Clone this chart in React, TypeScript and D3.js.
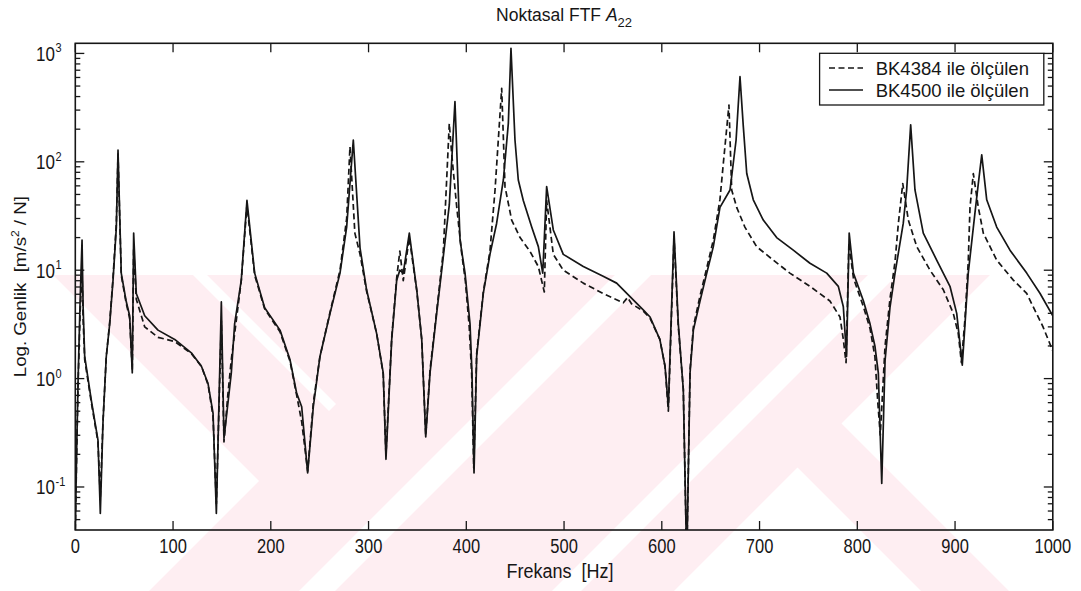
import React from "react";
import * as d3 from "d3";

// Point FRF A22 magnitude, measured with two accelerometers: [frequency Hz, |A| (m/s^2)/N]
const bk4384: [number, number][] = [
  [0, 0.04], [1.5, 0.22], [3, 1.0], [5, 4.2], [6.9, 9.5], [8, 3.5], [9.6, 1.5], [16.4, 0.6], [23.2, 0.26],
  [25.6, 0.08], [28.3, 0.4], [31.7, 1.6], [35.2, 3.3], [38.6, 8.5], [42, 27], [43.7, 118], [47, 9], [52, 5],
  [55.6, 3.6], [58.3, 1.2], [59.7, 16], [62.4, 5.4], [71, 3.0], [84.6, 2.4], [101.7, 2.2], [118.7, 1.7],
  [129, 1.3], [135.8, 0.88], [140.9, 0.45], [144.3, 0.07], [149.4, 3.4], [152.1, 0.26], [156, 0.7],
  [159.6, 1.5], [163, 2.6], [169.8, 8], [175.6, 40], [183.5, 9], [193.7, 4.4], [209.4, 2.7], [219.6, 1.45],
  [226.5, 0.7], [231.6, 0.4], [237.7, 0.14], [243.5, 0.6], [250.3, 1.6], [260.6, 4.1], [270.8, 10],
  [277.6, 30], [281, 138], [286, 22], [291.3, 14], [298, 6.4], [308.3, 2.6], [315, 1.1], [317.8, 0.2],
  [323.7, 2.4], [328.8, 8.5], [332, 15], [335.5, 8], [341.7, 20], [349.3, 6.5], [354.4, 2.3], [358.5, 0.3],
  [362.9, 1.2], [369.7, 4.2], [376.5, 15], [382.6, 226], [385, 120], [390, 40], [395, 15], [399, 8],
  [403, 3], [405.5, 1.1], [407.6, 0.15], [410.6, 1.7], [417.4, 6.3], [424.2, 15], [429.4, 55], [436.2, 477],
  [439.6, 59], [446.4, 29], [455, 20], [465, 15], [473.7, 10.8], [479.8, 6.3], [482.2, 44], [489, 14],
  [499.2, 10], [519.7, 7.6], [540, 6.1], [560.6, 5.0], [565, 5.6], [569, 4.9], [581, 4.2], [588, 3.6],
  [598, 2.3], [603.3, 1.3], [606.7, 0.5], [612.5, 20], [616.9, 3.0], [622, 0.8], [625.5, 0.02],
  [628.9, 1.2], [632.3, 3.0], [639.1, 5.8], [646, 10.5], [652.7, 19], [659.5, 45], [663, 98], [668.7, 334],
  [671.5, 55], [676.6, 38], [685, 25], [697, 16.5], [714, 12.4], [731, 9.4], [751.6, 7.1], [772, 5.2],
  [782.3, 3.7], [785.7, 2.3], [788.5, 1.4], [791.4, 18], [796, 8.5], [806.3, 4.6], [813, 2.9], [818, 1.6],
  [821, 0.6], [823.5, 0.3], [828.4, 2.0], [833.5, 5.5], [838.6, 12], [842, 27], [846.5, 63], [852.2, 29],
  [860.8, 16.5], [874.4, 10], [888, 6.6], [898.2, 4.0], [903.3, 2.6], [906.5, 1.4], [910.2, 3.6],
  [913.5, 12], [915.3, 38], [918.7, 78], [923.8, 38], [928.9, 22], [942.6, 12.4], [959.6, 8.1],
  [973.3, 6.1], [990, 3.0], [1000, 1.8],
];

const bk4500: [number, number][] = [
  [0, 0.04], [1.5, 0.25], [3, 1.1], [5, 5.5], [6.9, 19], [8, 4.6], [9.6, 1.6], [16.4, 0.63], [23.2, 0.27],
  [25.6, 0.057], [28.3, 0.39], [31.7, 1.6], [35.2, 3.2], [38.6, 8.1], [42, 25], [43.7, 128], [47, 9.4],
  [52, 5.2], [55.6, 3.8], [58.3, 1.13], [59.7, 22], [62.4, 6.1], [71, 3.8], [84.6, 2.8], [101.7, 2.3],
  [118.7, 1.73], [129, 1.3], [135.8, 0.9], [140.9, 0.48], [144.3, 0.057], [149.4, 5.1], [152.1, 0.28],
  [159.6, 1.13], [163, 3.2], [169.8, 8.1], [175.6, 44], [183.5, 9.4], [193.7, 4.5], [209.4, 2.8],
  [219.6, 1.5], [226.5, 0.73], [231.6, 0.55], [237.7, 0.135], [243.5, 0.55], [250.3, 1.6], [260.6, 4.0],
  [270.8, 9.4], [277.6, 25], [284.4, 159], [291.3, 16], [298, 6.6], [308.3, 2.6], [315, 1.13],
  [317.8, 0.18], [323.7, 2.3], [328.8, 8.1], [332, 10], [335.5, 9.4], [341.7, 22], [349.3, 6.6],
  [354.4, 2.3], [358.5, 0.29], [362.9, 1.13], [369.7, 4.0], [376.5, 13.4], [382.6, 40], [388.4, 359],
  [393.6, 19], [398.7, 9.4], [403.8, 3.2], [405.8, 1.13], [407.9, 0.135], [410.6, 1.6], [417.4, 6.1],
  [424.2, 14], [431, 27], [437.9, 68], [443, 226], [445.7, 1115], [449.8, 159], [453.2, 68], [458.3, 44],
  [466.9, 25], [473.7, 16.5], [478.2, 9.4], [482.2, 59], [489, 23.5], [499.2, 14], [519.7, 10.8],
  [540, 8.8], [553.8, 7.6], [567.5, 5.7], [581, 4.3], [588, 3.7], [598, 2.3], [603.3, 1.3], [606.7, 0.55],
  [612.5, 22.6], [616.9, 3.2], [622, 0.79], [625.5, 0.02], [628.9, 1.13], [632.3, 2.8], [639.1, 5.2],
  [646, 9.4], [652.7, 16.5], [659.5, 38], [669.8, 55], [676, 159], [680, 610], [683.4, 211], [686.9, 78],
  [693.6, 44.6], [703.8, 29], [717.5, 20], [734.5, 15.3], [751.6, 11.6], [768.7, 9.4], [780.6, 7.1],
  [785.7, 4.6], [789, 1.6], [791.7, 22], [796, 9.4], [806.3, 5.2], [813, 3.2], [818, 2.0], [821.5, 1.13],
  [825, 0.108], [828.4, 1.47], [833.5, 4.6], [838.6, 9.4], [847, 27], [850.5, 55], [854.6, 219], [859, 55],
  [867.5, 22], [881.2, 12.4], [894.8, 7.1], [901.7, 4.0], [907.4, 1.33], [910.2, 3.2], [913.5, 9.4],
  [920.4, 34], [923.8, 63], [927.3, 116], [932.4, 44.6], [942.6, 25], [956.2, 15.3], [973.3, 9.4],
  [987, 6.1], [1000, 3.8],
];

const freqTicks = [0, 100, 200, 300, 400, 500, 600, 700, 800, 900, 1000];
const decadeExponents = [-1, 0, 1, 2, 3];
const seriesLabels = ["BK4384 ile ölçülen", "BK4500 ile ölçülen"];

const FONT = "'Liberation Sans', Arial, Helvetica, sans-serif";
const INK = "#161616";
const WM_PINK = "#feeef2";

// Background stamp: a pale band from y=275 down, with diagonal white cut-outs.
// Lines are written as s = x + y ("/") and d = y - x ("\").
function stampCutouts(W: number, top: number, bot: number): string[] {
  const sLeft = 740, dLeft = 222;      // left chevron notch
  const sR = 1265, dR1 = -418, dR2 = -330; // right chevron notches
  const pts = (a: number[][]) => a.map((p) => p.join(",")).join(" ");
  const vL = [(sLeft - dLeft) / 2, (sLeft + dLeft) / 2];
  const vR = [(sR - dR1) / 2, (sR + dR1) / 2];
  const vB = [(sR - dR2) / 2, (sR + dR2) / 2];
  const diagSlash = (s0: number, s1: number) =>
    pts([[s0 - top, top], [s1 - top, top], [s1 - bot, bot], [s0 - bot, bot]]);
  return [
    pts([[0, top], [top - dLeft, top], vL, [sLeft - bot, bot], [0, bot]]),
    pts([[top - 82, top], [top - 68, top], [(sLeft - 68) / 2, (sLeft + 68) / 2], [(sLeft - 82) / 2, (sLeft + 82) / 2]]),
    diagSlash(890, 926),
    diagSlash(1143, 1172),
    pts([[sR - top, top], [W, top], [W, bot], [bot - dR1, bot], vR]),
    pts([vB, [bot - dR2, bot], [sR - bot, bot]]),
  ];
}

export default function App() {
  const W = 1081;
  const H = 591;
  const L = 75.3, R = 1052.8, T = 43.3, B = 530;

  const x = d3.scaleLinear().domain([0, 1000]).range([L, R]);
  const y = d3.scaleLog().domain([0.0401, 1240]).range([B, T]);

  const line = d3
    .line<[number, number]>()
    .x((d) => x(d[0]))
    .y((d) => y(d[1]));

  const wmTop = 275, wmBot = 591;
  const cutouts = stampCutouts(W, wmTop, wmBot);

  const minorVals: number[] = [];
  for (let e = -2; e <= 3; e++) {
    for (let k = 2; k <= 9; k++) {
      const v = k * Math.pow(10, e);
      const [lo, hi] = y.domain();
      if (v >= lo && v <= hi) minorVals.push(v);
    }
  }

  const majorLen = 9;
  const minorLen = 5;

  return (
    <svg
      width={W}
      height={H}
      viewBox={`0 0 ${W} ${H}`}
      style={{ position: "absolute", left: 0, top: 0, background: "#fff" }}
    >
      <rect x={0} y={0} width={W} height={H} fill="#fff" />
      <defs>
        <clipPath id="plot-clip">
          <rect x={L} y={T} width={R - L} height={B - T} />
        </clipPath>
      </defs>

      <g>
        <rect x={0} y={wmTop} width={W} height={wmBot - wmTop} fill={WM_PINK} />
        {cutouts.map((p, i) => (
          <polygon key={"c" + i} points={p} fill="#fff" />
        ))}
      </g>

      {/* title */}
      <text x={(L + R) / 2} y={21} textAnchor="middle" fontFamily={FONT} fontSize={17.5} fill={INK}>
        Noktasal FTF <tspan fontStyle="italic">A</tspan>
        <tspan dy={6} fontSize={13}>22</tspan>
      </text>

      {/* curves */}
      <g clipPath="url(#plot-clip)" fill="none" strokeLinejoin="round">
        <path d={line(bk4384) || ""} stroke={INK} strokeWidth={1.7} strokeDasharray="6 3.5" />
        <path d={line(bk4500) || ""} stroke={INK} strokeWidth={1.7} />
      </g>

      {/* frame */}
      <rect x={L} y={T} width={R - L} height={B - T} fill="none" stroke={INK} strokeWidth={1.6} />

      {/* ticks */}
      <g stroke={INK} strokeWidth={1.3}>
        {freqTicks.map((f) => (
          <g key={"xt" + f}>
            <line x1={x(f)} x2={x(f)} y1={B} y2={B - majorLen} />
            <line x1={x(f)} x2={x(f)} y1={T} y2={T + majorLen} />
          </g>
        ))}
        {decadeExponents.map((e) => {
          const yy = y(Math.pow(10, e));
          return (
            <g key={"yt" + e}>
              <line x1={L} x2={L + majorLen} y1={yy} y2={yy} />
              <line x1={R} x2={R - majorLen} y1={yy} y2={yy} />
            </g>
          );
        })}
        {minorVals.map((v, i) => (
          <g key={"ym" + i}>
            <line x1={L} x2={L + minorLen} y1={y(v)} y2={y(v)} />
            <line x1={R} x2={R - minorLen} y1={y(v)} y2={y(v)} />
          </g>
        ))}
      </g>

      {/* x tick labels */}
      {freqTicks.map((f) => (
        <text
          key={"xl" + f}
          transform={`translate(${x(f)},553) scale(1,1.25)`}
          textAnchor="middle"
          fontFamily={FONT}
          fontSize={16.5}
          fill={INK}
        >
          {f}
        </text>
      ))}

      {/* y tick labels */}
      {decadeExponents.map((e) => {
        const yy = y(Math.pow(10, e));
        return (
          <g key={"yl" + e} fontFamily={FONT} fill={INK}>
            <text transform={`translate(55,${yy + 7.5}) scale(1,1.15)`} textAnchor="end" fontSize={17}>
              10
            </text>
            <text transform={`translate(55.5,${yy - 1}) scale(1,1.15)`} textAnchor="start" fontSize={11}>
              {String(e)}
            </text>
          </g>
        );
      })}

      {/* axis labels */}
      <text
        transform={`translate(${(L + R) / 2 - 4},578) scale(1,1.12)`}
        textAnchor="middle"
        fontFamily={FONT}
        fontSize={18}
        fill={INK}
        style={{ whiteSpace: "pre" }}
      >
        {"Frekans  [Hz]"}
      </text>
      <text
        transform={`translate(26,${(T + B) / 2}) rotate(-90) scale(1.1,1)`}
        textAnchor="middle"
        fontFamily={FONT}
        fontSize={17}
        fill={INK}
        style={{ whiteSpace: "pre" }}
      >
        {"Log. Genlik  [m/s"}
        <tspan dy={-7} fontSize={11}>2</tspan>
        <tspan dy={7}>{" / N]"}</tspan>
      </text>

      {/* legend */}
      <g fontFamily={FONT} fill={INK}>
        <rect x={819.6} y={53.3} width={224.2} height={51.7} fill="#fff" stroke={INK} strokeWidth={1.3} />
        <line x1={829} x2={863} y1={68} y2={68} stroke={INK} strokeWidth={1.6} strokeDasharray="6 3.5" />
        <line x1={829} x2={863} y1={90} y2={90} stroke={INK} strokeWidth={1.6} />
        <text x={875.7} y={75} fontSize={18.5}>{seriesLabels[0]}</text>
        <text x={875.7} y={97.3} fontSize={18.5}>{seriesLabels[1]}</text>
      </g>
    </svg>
  );
}
